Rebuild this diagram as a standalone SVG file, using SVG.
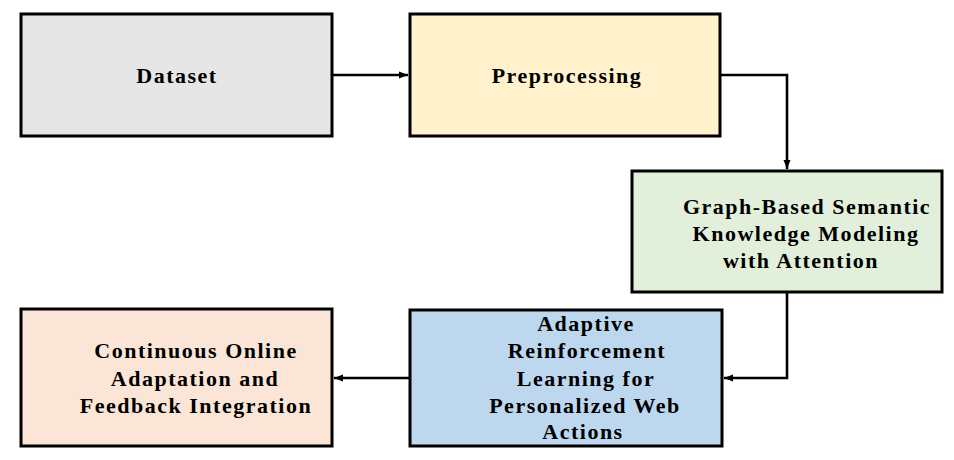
<svg xmlns="http://www.w3.org/2000/svg" width="954" height="460" viewBox="0 0 954 460">
<defs>
<style>
.box{stroke:#000;stroke-width:3}
.t{font-family:"Liberation Serif","Times New Roman",serif;font-weight:bold;font-size:22px;letter-spacing:1.5px;text-anchor:middle;fill:#000}
.c{fill:none;stroke:#000;stroke-width:2.6}
</style>
<marker id="ah" markerWidth="9" markerHeight="8" refX="9" refY="4" orient="auto" markerUnits="userSpaceOnUse">
<path d="M0,0.5 L9,4 L0,7.5 Z" fill="#000"/>
</marker>
</defs>
<rect width="954" height="460" fill="#fff"/>
<g id="connectors">
<path class="c" d="M332,75 L408,75" marker-end="url(#ah)"/>
<path class="c" d="M720,75 L787,75 L787,169" marker-end="url(#ah)"/>
<path class="c" d="M787,292 L787,378 L724,378" marker-end="url(#ah)"/>
<path class="c" d="M410,378 L334,378" marker-end="url(#ah)"/>
</g>
<g id="dataset">
<rect class="box" x="21" y="14" width="311" height="122" fill="#e6e6e6"/>
<text class="t" x="177" y="83">Dataset</text>
</g>
<g id="preprocessing">
<rect class="box" x="410" y="14" width="310" height="122" fill="#fff2cc"/>
<text class="t" x="567" y="83">Preprocessing</text>
</g>
<g id="graph">
<rect class="box" x="632" y="171" width="310" height="121" fill="#e2efda"/>
<text class="t" x="807" y="214">Graph-Based Semantic</text>
<text class="t" x="806" y="241">Knowledge Modeling</text>
<text class="t" x="801" y="268">with Attention</text>
</g>
<g id="adaptive">
<rect class="box" x="410" y="310" width="312" height="136" fill="#bdd7ee"/>
<text class="t" x="586" y="331">Adaptive</text>
<text class="t" x="587" y="358">Reinforcement</text>
<text class="t" x="586" y="386">Learning for</text>
<text class="t" x="585" y="413">Personalized Web</text>
<text class="t" x="583" y="439">Actions</text>
</g>
<g id="continuous">
<rect class="box" x="21" y="309" width="311" height="137" fill="#fbe5d6"/>
<text class="t" x="196" y="358">Continuous Online</text>
<text class="t" x="195" y="386">Adaptation and</text>
<text class="t" x="196" y="413">Feedback Integration</text>
</g>
</svg>
